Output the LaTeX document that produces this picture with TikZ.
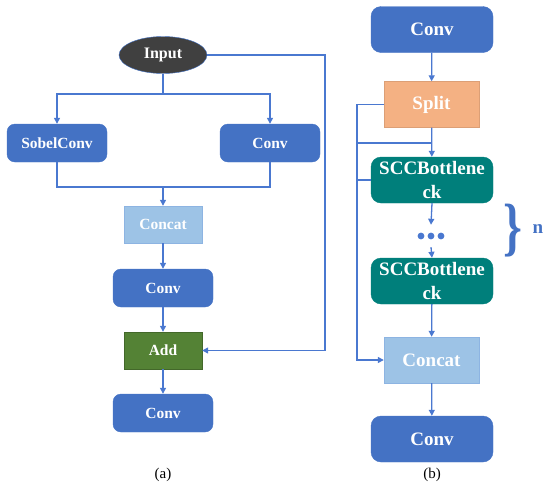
\documentclass[tikz,border=0pt]{standalone}
\usepackage{fontspec}
\setmainfont{Liberation Serif}
\usepackage{tikz}
\usetikzlibrary{shapes.geometric, arrows.meta, positioning, calc}
\definecolor{convblue}{HTML}{4472C4}
\definecolor{wireblue}{HTML}{4A78D0}
\definecolor{inputgray}{HTML}{404040}
\definecolor{concatblue}{HTML}{9DC3E6}
\definecolor{concatedge}{HTML}{8DB4E2}
\definecolor{addgreen}{HTML}{548235}
\definecolor{splitorange}{HTML}{F4B183}
\definecolor{bneckteal}{HTML}{007F7B}

\begin{document}
\begin{tikzpicture}[
    x=1pt, y=-1pt,
    convbox/.style={draw=convblue, fill=convblue, rounded corners=8pt, minimum width=100pt, minimum height=38pt, align=center, font=\fontsize{15.5}{18}\selectfont\bfseries, text=white},
    bigbox/.style={convbox, rounded corners=10pt, minimum width=122pt, minimum height=46pt, font=\fontsize{19}{24}\selectfont\bfseries},
    flatbox/.style={draw=concatedge, fill=concatblue, minimum width=78pt, minimum height=37pt, align=center, font=\fontsize{15.5}{18}\selectfont\bfseries, text=white},
    bigflat/.style={flatbox, minimum width=95pt, minimum height=46pt, font=\fontsize{19}{24}\selectfont\bfseries},
    arrow/.style={-{Triangle[length=6pt, width=6pt]}, line width=1.3pt, color=wireblue},
    wire/.style={line width=1.3pt, color=wireblue},
    caption/.style={font=\fontsize{15}{17}\selectfont},
]
    \useasboundingbox (0,0) rectangle (550,488);

    % (a) nodes
    \node[ellipse, draw=convblue, fill=inputgray, minimum width=88pt, minimum height=37pt, text=white, font=\fontsize{16}{18}\selectfont\bfseries] (inp) at (163,55) {Input};
    \node[convbox] (sobel) at (57,143) {SobelConv};
    \node[convbox] (conva) at (270,143) {Conv};
    \node[flatbox] (concata) at (163,224.5) {Concat};
    \node[convbox] (convb) at (163,288) {Conv};
    \node[flatbox, draw=addgreen!80!black, fill=addgreen] (add) at (163,350.5) {Add};
    \node[convbox] (convc) at (163,413) {Conv};
    \node[caption] (capa) at (163,475) {(a)};

    % (a) connectors
    \coordinate (fork) at (163,94);
    \coordinate (join) at (163,187);
    \coordinate (rbus) at (325,350.5);
    \draw[wire] (inp.south) -- (fork);
    \draw[arrow] (fork) -| (sobel.north);
    \draw[arrow] (fork) -| (conva.north);
    \draw[wire] (sobel.south) |- (join);
    \draw[wire] (conva.south) |- (join);
    \draw[arrow] (join) -- (concata.north);
    \draw[arrow] (concata) -- (convb);
    \draw[arrow] (convb) -- (add);
    \draw[arrow] (add) -- (convc);
    \draw[arrow] (inp.east) -| (rbus) -- (add.east);

    % (b) nodes
    \node[bigbox] (convt) at (432,29.5) {Conv};
    \node[bigflat, draw=splitorange!90!black, fill=splitorange] (split) at (431.5,104.5) {Split};
    \node[bigbox, draw=bneckteal, fill=bneckteal] (scca) at (432,180) {SCCBottlene\\ck};
    \node[inner sep=0pt, minimum width=26pt, minimum height=22pt] (dots) at (431,236) {};
    \node[bigbox, draw=bneckteal, fill=bneckteal] (sccb) at (432,281) {SCCBottlene\\ck};
    \node[bigflat] (concatb) at (431.5,360) {Concat};
    \node[bigbox] (convd) at (432,439) {Conv};
    \node[caption] (capb) at (432,475) {(b)};
    \node[inner sep=0pt, xscale=0.75, text=convblue, font=\fontsize{64}{64}\selectfont\bfseries] (brace) at (513,231) {\}};
    \node[font=\fontsize{19}{22}\selectfont\bfseries, text=convblue] (nrep) at (538,229) {n};

    \foreach \dx in {-10,0,10}
        \fill[wireblue] ($(dots)+(\dx,0)$) circle (3.4pt);

    % (b) connectors
    \coordinate (lbus) at (357,360);
    \coordinate (tap) at (357,143);
    \draw[arrow] (convt) -- (split);
    \draw[arrow] (split) -- (scca);
    \draw[arrow] (split.west) -| (lbus) -- (concatb.west);
    \draw[wire] (tap) -- (tap -| split.south);
    \draw[wire] (scca.west) -- (scca.west -| tap);
    \draw[arrow] (scca.south) -- (dots.north);
    \draw[arrow] (dots.south) -- (sccb.north);
    \draw[arrow] (sccb) -- (concatb);
    \draw[arrow] (concatb) -- (convd);

\end{tikzpicture}
\end{document}
